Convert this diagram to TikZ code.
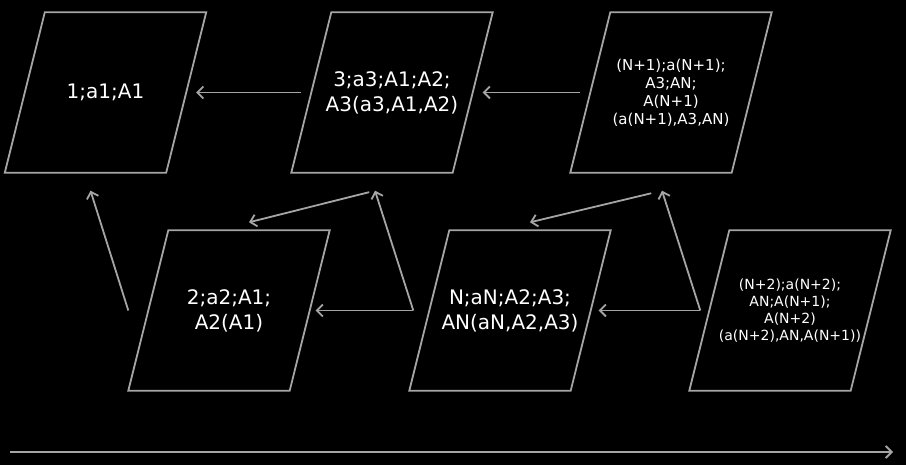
\documentclass[tikz,border=0pt]{standalone}
\usepackage{fontspec}
\setmainfont{DejaVu Sans}
\usetikzlibrary{arrows.meta}
\definecolor{linegray}{RGB}{165,165,165}
\tikzset{
  box/.style={rectangle, minimum width=161pt, minimum height=160pt, inner sep=0pt,
    text=white, align=center},
  frame/.style={draw=linegray, line width=1.8pt, line join=miter},
  bigtext/.style={font=\fontsize{20}{25}\selectfont},
  smalltext/.style={font=\fontsize{15}{18}\selectfont},
  tinytext/.style={font=\fontsize{14}{17}\selectfont},
  link/.style={draw=linegray, line width=1.8pt, -{Straight Barb[length=6pt,width=12pt]}}
}
\begin{document}
\begin{tikzpicture}[x=1pt, y=-1pt]
\fill[black] (0,0) rectangle (906,465);
\useasboundingbox (0,0) rectangle (906,465);
% upper row
\node[box, bigtext] (s1) at (105.5,92.5) {1;a1;A1};
\node[box, bigtext] (s2) at (392,92.5) {3;a3;A1;A2;\\A3(a3,A1,A2)};
\node[box, smalltext] (s3) at (671,92.5) {(N+1);a(N+1);\\A3;AN;\\A(N+1)\\(a(N+1),A3,AN)};
% lower row
\node[box, bigtext] (s4) at (229,310.5) {2;a2;A1;\\A2(A1)};
\node[box, bigtext] (s5) at (510,310.5) {N;aN;A2;A3;\\AN(aN,A2,A3)};
\node[box, tinytext] (s6) at (790,310.5) {(N+2);a(N+2);\\AN;A(N+1);\\A(N+2)\\(a(N+2),AN,A(N+1))};
% slanted frames
\foreach \n in {s1, s2, s3, s4, s5, s6}
	\draw[frame] ([xshift=20pt]\n.north west) -- ([xshift=20pt]\n.north east)
		-- ([xshift=-20pt]\n.south east) -- ([xshift=-20pt]\n.south west) -- cycle;
% junctions
\coordinate (up1) at ([xshift=-20pt]s4.west);
\coordinate (tip1) at ([xshift=-15pt,yshift=-18pt]s1.south);
\coordinate (j1) at ([xshift=-16pt]s5.west);
\coordinate (j2) at ([xshift=-17pt,yshift=-18pt]s2.south);
\coordinate (j3) at ([xshift=-9pt]s6.west);
\coordinate (j4) at ([xshift=-9pt,yshift=-18pt]s3.south);
\coordinate (t0) at (10,452);
\coordinate (t1) at (893,452);
% connectors
\draw[link, shorten <=10pt, shorten >=10pt] (s2) -- (s1);
\draw[link, shorten <=10pt, shorten >=10pt] (s3) -- (s2);
\draw[link] (up1) -- (tip1);
\draw[link, shorten >=6pt] (j1) -- (s4);
\draw[link] (j1) -- (j2);
\draw[link, shorten <=6pt] (j2) -- ([xshift=20pt,yshift=8pt]s4.north);
\draw[link, shorten >=8pt] (j3) -- (s5);
\draw[link] (j3) -- (j4);
\draw[link, shorten <=11pt] (j4) -- ([xshift=20pt,yshift=8pt]s5.north);
\draw[link] (t0) -- (t1);
\end{tikzpicture}
\end{document}
